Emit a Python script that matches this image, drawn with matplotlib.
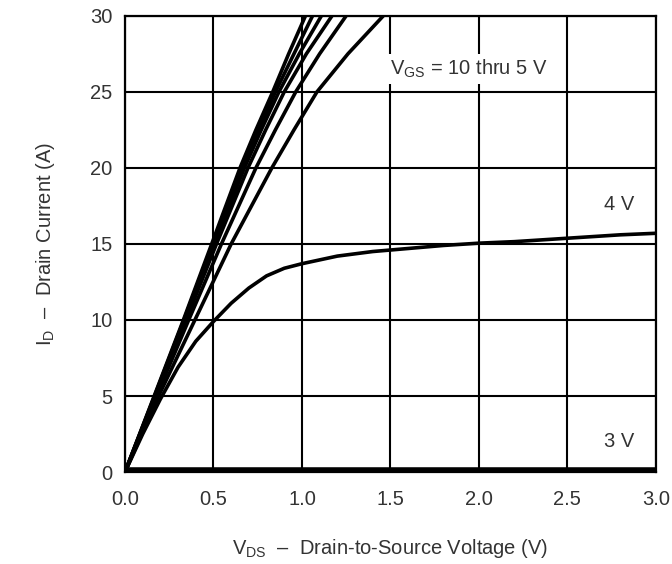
import matplotlib
matplotlib.use('Agg')
import matplotlib.pyplot as plt

plt.rcParams['font.family'] = ['Liberation Sans', 'DejaVu Sans']
plt.rcParams['mathtext.fontset'] = 'custom'
plt.rcParams['mathtext.rm'] = 'Liberation Sans'

# ── Datos: curvas de salida, VGS = 10 ... 5 V (VDS en V para cada ID) ─────────
id_pts = [0, 5, 10, 15, 20, 22.5, 25, 27.5, 30]
vds_10v = [0, 0.165, 0.33, 0.49, 0.65, 0.74, 0.835, 0.925, 1.02]
vds_9v = [0, 0.167, 0.333, 0.497, 0.66, 0.755, 0.85, 0.955, 1.06]
vds_8v = [0, 0.169, 0.337, 0.505, 0.675, 0.77, 0.87, 0.985, 1.11]
vds_7v = [0, 0.172, 0.345, 0.517, 0.695, 0.795, 0.90, 1.025, 1.17]
vds_6v = [0, 0.178, 0.36, 0.545, 0.74, 0.85, 0.965, 1.10, 1.25]
vds_5v = [0, 0.19, 0.395, 0.60, 0.83, 0.955, 1.085, 1.26, 1.46]

# ── VGS = 4 V ─────────────────────────────────────────────────────────────────
vds_4v = [0, 0.1, 0.2, 0.3, 0.4, 0.5, 0.6, 0.7, 0.8, 0.9, 1.0, 1.2, 1.4,
          1.6, 1.8, 2.0, 2.2, 2.4, 2.6, 2.8, 3.0]
id_4v = [0, 2.5, 4.8, 6.9, 8.6, 9.9, 11.1, 12.1, 12.9, 13.4, 13.7, 14.2,
         14.5, 14.7, 14.9, 15.05, 15.15, 15.3, 15.45, 15.6, 15.7]

# ── VGS = 3 V ─────────────────────────────────────────────────────────────────
vds_3v = [0, 3.0]
id_3v = [0.15, 0.15]

xticks = [0.0, 0.5, 1.0, 1.5, 2.0, 2.5, 3.0]
yticks = [0, 5, 10, 15, 20, 25, 30]

fig = plt.figure(figsize=(6.72, 5.64), dpi=100)
ax = fig.add_axes([0.186, 0.163, 0.790, 0.809])

txt_color = '#333333'
fs = 14.5

for vds in [vds_10v, vds_9v, vds_8v, vds_7v, vds_6v, vds_5v]:
    ax.plot(vds, id_pts, color='black', lw=2.6, zorder=3,
            solid_capstyle='butt')
ax.plot(vds_4v, id_4v, color='black', lw=2.6, zorder=3)
ax.plot(vds_3v, id_3v, color='black', lw=4.0, zorder=3)

ax.set_xlim(0, 3.0)
ax.set_ylim(0, 30)
ax.set_xticks(xticks)
ax.set_yticks(yticks)
ax.set_xticklabels([f"{v:.1f}" for v in xticks])
ax.set_yticklabels([str(v) for v in yticks])
ax.tick_params(length=0, labelsize=fs, labelcolor=txt_color)
ax.tick_params(axis='x', pad=13)
ax.tick_params(axis='y', pad=9)
ax.grid(True, color='black', lw=1.5, zorder=1)
for s in ax.spines.values():
    s.set_linewidth(1.6)

ax.text(1.50, 26.5, r"$\mathregular{V_{GS}}$ = 10 thru 5 V", fontsize=fs,
        color=txt_color, va='center', ha='left', zorder=4,
        bbox=dict(facecolor='white', edgecolor='none', pad=3))
ax.text(2.79, 17.6, "4 V", fontsize=fs, color=txt_color, ha='center',
        va='center', zorder=4)
ax.text(2.79, 2.0, "3 V", fontsize=fs, color=txt_color, ha='center',
        va='center', zorder=4)

ax.set_xlabel(r"$\mathregular{V_{DS}}$  –  Drain-to-Source Voltage (V)",
              fontsize=fs, color=txt_color, labelpad=20)
ax.set_ylabel(r"$\mathregular{I_D}$  –  Drain Current (A)",
              fontsize=fs, color=txt_color, labelpad=24)

fig.savefig("out.png", dpi=100)
